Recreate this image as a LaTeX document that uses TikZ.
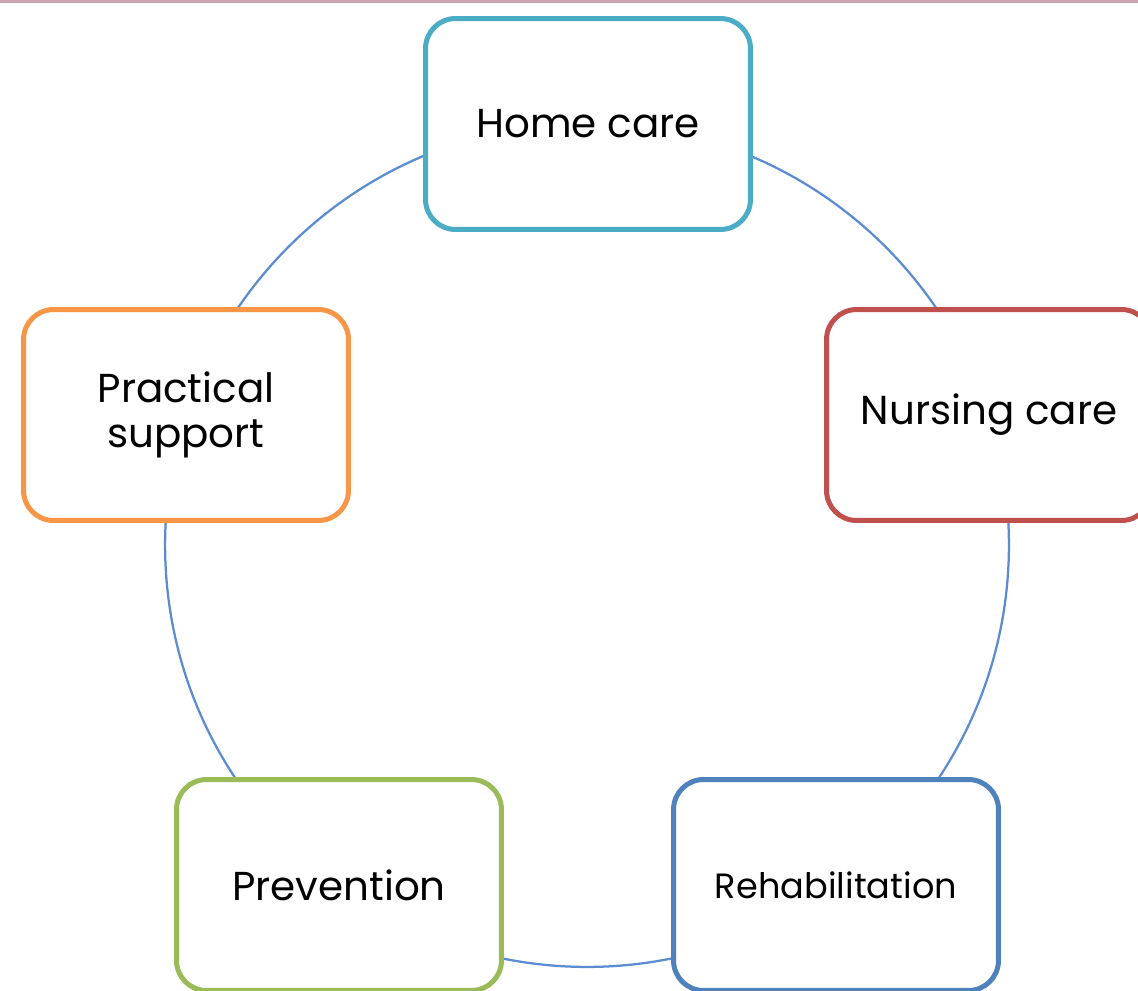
\documentclass[tikz,border=0pt]{standalone}
\usepackage{fontspec}
\setmainfont{Poppins}
\usetikzlibrary{positioning}
\definecolor{homecol}{HTML}{4BACC6}
\definecolor{nursecol}{HTML}{C0504D}
\definecolor{rehabcol}{HTML}{4F81BD}
\definecolor{prevcol}{HTML}{9BBB59}
\definecolor{practcol}{HTML}{F79646}
\definecolor{ringcol}{HTML}{5B8BD0}
\definecolor{bandcol}{HTML}{C9A3B2}
\tikzset{
    carebox/.style={rectangle, rounded corners=0.6cm, line width=0.1cm, fill=white,
        minimum width=6.5cm, minimum height=4.22cm, align=center, text=black},
    ring/.style={ringcol, line width=0.045cm},
}

\begin{document}
\begin{tikzpicture}[x=0.02cm, y=-0.02cm]
    \clip (0,0) rectangle (1138,990);
    \useasboundingbox (0,0) rectangle (1138,990);
    \fill[bandcol] (0,0) rectangle (1138,3);
    \coordinate (hub) at (587,545);
    \draw[ring] (hub) circle[radius=8.44cm];
    \foreach \name/\pos/\col/\size/\txt in {
        home/{588,124}/homecol/23/Home care,
        nursing/{989,415}/nursecol/23/Nursing care,
        rehab/{836,885}/rehabcol/20/Rehabilitation,
        prevention/{339,885}/prevcol/23/Prevention,
        practical/{186,415}/practcol/23/Practical\\support
    } {
        \node[carebox, draw=\col, font=\fontsize{\size}{26}\selectfont] (\name) at (\pos) {\txt};
    }
\end{tikzpicture}
\end{document}
